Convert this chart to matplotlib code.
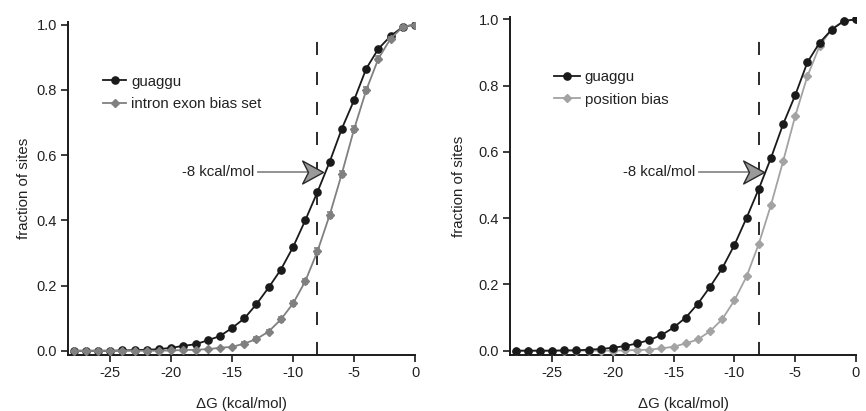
import numpy as np
import matplotlib
matplotlib.use("Agg")
import matplotlib.pyplot as plt
from matplotlib.lines import Line2D

plt.rcParams['font.family'] = ['Liberation Sans', 'DejaVu Sans']
plt.rcParams['lines.scale_dashes'] = False
plt.rcParams['axes.unicode_minus'] = False

# --- data ---
dG = list(range(-28, 1))

guaggu_left = [0, 0, 0, 0, 0.001, 0.002, 0.003, 0.005, 0.009, 0.015,
               0.020, 0.032, 0.045, 0.070, 0.099, 0.143, 0.194, 0.249, 0.318, 0.400,
               0.487, 0.579, 0.681, 0.768, 0.865, 0.926, 0.965, 0.993, 1.0]
intron_exon = [0, 0, 0, 0, 0, 0, 0, 0, 0.001, 0.002,
               0.003, 0.005, 0.009, 0.012, 0.022, 0.036, 0.059, 0.096, 0.145, 0.213,
               0.305, 0.416, 0.543, 0.679, 0.799, 0.896, 0.957, 0.993, 1.0]
intron_exon_err = [0, 0, 0, 0, 0, 0, 0, 0, 0, 0,
                   0, 0, 0, 0, 0.004, 0.005, 0.006, 0.007, 0.008, 0.008,
                   0.009, 0.009, 0.009, 0.009, 0.009, 0.008, 0.006, 0.003, 0]

guaggu_right = [0, 0, 0, 0, 0.001, 0.001, 0.003, 0.005, 0.009, 0.014,
                0.022, 0.032, 0.047, 0.070, 0.100, 0.142, 0.193, 0.249, 0.319, 0.401,
                0.488, 0.581, 0.683, 0.771, 0.870, 0.929, 0.969, 0.995, 1.0]
position_bias = [0, 0, 0, 0, 0, 0, 0, 0, 0, 0.001,
                 0.002, 0.003, 0.007, 0.012, 0.022, 0.034, 0.059, 0.095, 0.152, 0.224,
                 0.322, 0.439, 0.571, 0.708, 0.828, 0.919, 0.970, 0.995, 1.0]

cutoff = -8
arrow_tip = [(-7.55, 0.547), (-7.6, 0.540)]
dash_top = [0.97, 0.94]

fig = plt.figure(figsize=(8.66, 4.11), dpi=100)
ax1 = fig.add_axes([68/866, 56/411, 347/866, 333/411])
ax2 = fig.add_axes([510/866, 56/411, 346/866, 338/411])

# stealth-like arrow head, tip at (0, 0)
head = [(0, 0), (-1, 0.55), (-0.72, 0), (-1, -0.55), (0, 0)]

black = '#1a1a1a'
panels = [
    (ax1, guaggu_left, intron_exon, 'intron exon bias set', '#808080', True),
    (ax2, guaggu_right, position_bias, 'position bias', '#a3a3a3', False),
]

for i, (ax, blk, gry, gname, gcol, gray_on_top) in enumerate(panels):
    z_b, z_g = (3, 4) if gray_on_top else (4, 3)
    ax.plot(dG, blk, color=black, lw=1.3, marker='o', ms=5.2,
            mfc=black, mec=black, zorder=z_b)
    if i == 0:
        ax.errorbar(dG, gry, yerr=intron_exon_err, color=gcol, lw=1.3,
                    marker='D', ms=4.2, mfc=gcol, mec=gcol, elinewidth=1.2,
                    capsize=2.5, capthick=1.2, zorder=z_g)
    else:
        ax.plot(dG, gry, color=gcol, lw=1.3, marker='D', ms=4.2,
                mfc=gcol, mec=gcol, zorder=z_g)

    # dashed cutoff line
    ax.plot([cutoff, cutoff], [-0.013, dash_top[i]], color=black, lw=1.3,
            dashes=(9.4, 12.2), zorder=2)

    # arrow annotation
    tx, ty = arrow_tip[i]
    ax.text(-13.2, ty, '-8 kcal/mol', ha='right', va='center',
            fontsize=10.8, color='#222222')
    ax.plot([-12.9, tx - 1.0], [ty, ty], color='#8a8a8a', lw=1.3, zorder=5)
    ax.plot([tx], [ty], marker=head, ms=30, mfc='#9a9a9a', mec='#2a2a2a',
            mew=1.0, zorder=6)

    ax.set_xlim(-28.46, 0)
    ax.set_ylim(-0.013, 1.008 if i == 0 else 1.007)
    ax.set_xticks([-25, -20, -15, -10, -5, 0])
    ax.set_yticks([0.0, 0.2, 0.4, 0.6, 0.8, 1.0])
    ax.set_yticklabels(['0.0', '0.2', '0.4', '0.6', '0.8', '1.0'])
    for s in ['top', 'right']:
        ax.spines[s].set_visible(False)
    for s in ['left', 'bottom']:
        ax.spines[s].set_linewidth(1.4)
        ax.spines[s].set_color(black)
    ax.tick_params(direction='out', length=5, width=1.2, labelsize=10.5,
                   colors=black, labelcolor='#222222', pad=3)
    ax.set_xlabel('\u0394G (kcal/mol)', fontsize=10.8, color='#222222', labelpad=12)
    ax.set_ylabel('fraction of sites', fontsize=10.8, color='#222222',
                  labelpad=4 if i == 0 else 9)

    handles = [
        Line2D([], [], color=black, lw=1.3, marker='o', ms=5.2, mfc=black, mec=black),
        Line2D([], [], color=gcol, lw=1.3, marker='D', ms=4.2, mfc=gcol, mec=gcol),
    ]
    leg = ax.legend(handles, ['guaggu', gname], loc='upper left',
                    bbox_to_anchor=(0.085 if i == 0 else 0.11, 0.86),
                    frameon=False, fontsize=10.8,
                    handlelength=1.5 if i == 0 else 1.7,
                    handletextpad=0.35, labelspacing=0.55, borderaxespad=0)
    for t in leg.get_texts():
        t.set_color('#222222')

fig.savefig('out.png', dpi=100)
